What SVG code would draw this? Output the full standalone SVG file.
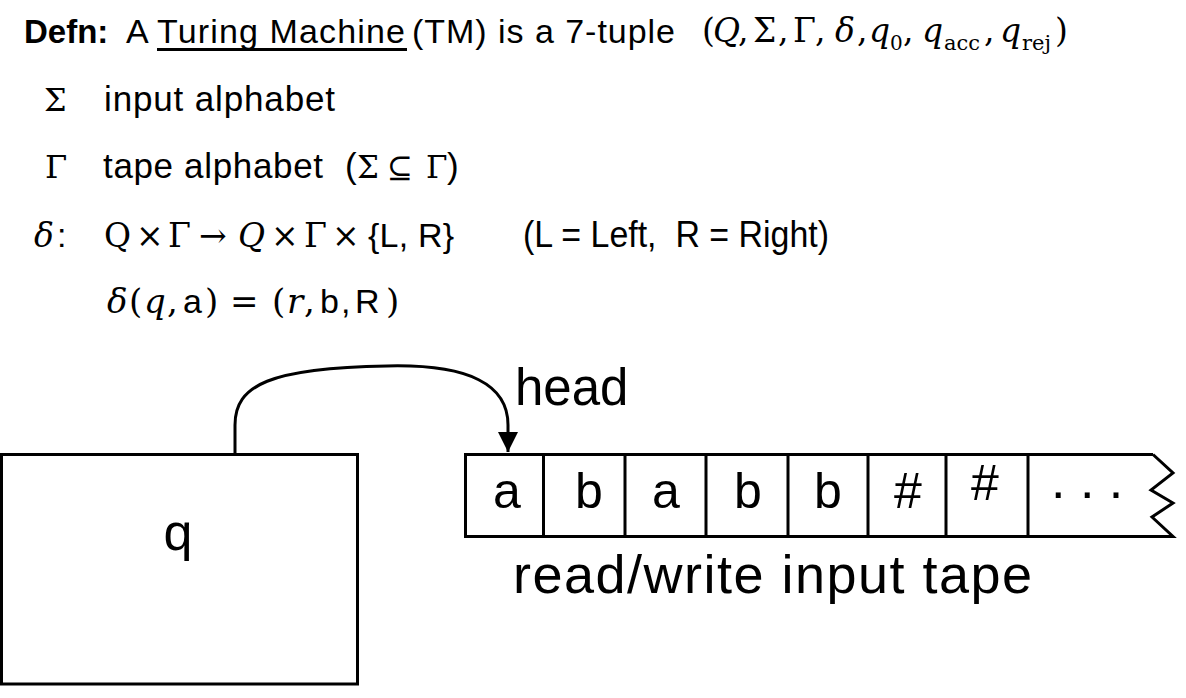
<svg xmlns="http://www.w3.org/2000/svg" width="1186" height="698" viewBox="0 0 1186 698">
<style>
.s{font-family:"Liberation Sans",Arial,sans-serif;fill:#000}
.m{font-family:"DejaVu Serif","Liberation Serif",serif;fill:#000}
.i{font-style:italic}
.b{font-weight:bold}
.box{fill:#fff;stroke:#000;stroke-width:3}
.ln{fill:none;stroke:#000;stroke-width:3}
.big{font-size:52px}
.cell{font-size:50px;text-anchor:middle}
</style>
<defs>
<marker id="ah" markerUnits="userSpaceOnUse" markerWidth="22" markerHeight="20" refX="20" refY="10" orient="auto">
<path d="M0,0 L20,10 L0,20 Z" fill="#000"/>
</marker>
</defs>
<rect width="1186" height="698" fill="#fff"/>

<g id="definition">
<text class="s b" x="24" y="43" font-size="33">Defn:</text>
<text class="s" x="126" y="43" font-size="34">A</text>
<text class="s" x="157" y="43" font-size="34" textLength="248">Turing Machine</text>
<rect x="157" y="48" width="250" height="3" fill="#000"/>
<text class="s" x="412" y="43" font-size="34" textLength="263">(TM) is a 7-tuple</text>
<g class="m" font-size="33">
<text x="702" y="42">(</text>
<text class="i" x="713" y="42">Q</text>
<text x="738" y="42">,</text>
<text x="753" y="42">Σ</text>
<text x="778" y="42">,</text>
<text x="793" y="42">Γ</text>
<text x="815" y="42">,</text>
<text class="i" x="835" y="42">δ</text>
<text x="857" y="42">,</text>
<text class="i" x="869" y="42">q</text>
<text x="890" y="50" font-size="20">0</text>
<text x="903" y="42">,</text>
<text class="i" x="922" y="42">q</text>
<text x="944" y="50" font-size="21">acc</text>
<text x="984" y="42">,</text>
<text class="i" x="1000" y="42">q</text>
<text x="1022" y="50" font-size="21">rej</text>
<text x="1055" y="42">)</text>
</g>
</g>

<g id="sigma-line">
<text class="m" x="44" y="111" font-size="32">Σ</text>
<text class="s" x="104" y="111" font-size="35" textLength="231">input alphabet</text>
</g>

<g id="gamma-line">
<text class="m" x="45" y="178" font-size="32">Γ</text>
<text class="s" x="103" y="178" font-size="35" textLength="220">tape alphabet</text>
<text class="s" x="345" y="178" font-size="35">(</text>
<text class="m" x="357" y="178" font-size="31">Σ</text>
<text class="m" x="387" y="178" font-size="31">⊆</text>
<text class="m" x="426" y="178" font-size="31">Γ</text>
<text class="s" x="447" y="178" font-size="35">)</text>
</g>

<g id="delta-line">
<g class="m" font-size="33">
<text class="i" x="34" y="247">δ</text>
<text x="104" y="247">Q</text>
<text x="136" y="247">×</text>
<text x="168" y="247">Γ</text>
<text x="199" y="247">→</text>
<text class="i" x="238" y="247">Q</text>
<text x="271" y="247">×</text>
<text x="304" y="247">Γ</text>
<text x="332" y="247">×</text>
</g>
<text class="s" x="57" y="247" font-size="34">:</text>
<text class="s" x="368" y="247" font-size="34" textLength="86">{L, R}</text>
<text class="s" x="523" y="247" font-size="36" textLength="306" lengthAdjust="spacingAndGlyphs" style="white-space:pre">(L = Left,  R = Right)</text>
</g>

<g id="example-line">
<g class="m" font-size="34">
<text class="i" x="107" y="313">δ</text>
<text x="129" y="313">(</text>
<text class="i" x="144" y="313">q</text>
<text x="167" y="313">,</text>
<text x="205" y="313">)</text>
<text x="230" y="313">=</text>
<text x="272" y="313">(</text>
<text class="i" x="287" y="313">r</text>
<text x="304" y="313">,</text>
<text x="386" y="313">)</text>
</g>
<g class="s" font-size="34">
<text x="183" y="313">a</text>
<text x="320" y="313">b</text>
<text x="341" y="313">,</text>
<text x="355" y="313">R</text>
</g>
</g>

<g id="connectors">
<path class="ln" d="M235,455 L235,425 C235,385 270,368 387,366 C470,364 508,385 508,425 L508,452" marker-end="url(#ah)"/>
</g>

<g id="state-control">
<rect class="box" x="1.5" y="454.5" width="356" height="229.5"/>
<text class="s big" x="178" y="550" text-anchor="middle">q</text>
</g>

<g id="tape">
<path class="ln" d="M1153,454.5 L465.5,454.5 L465.5,536.5 L1173,536.5 L1152,517 L1173,503 L1151,490 L1173,473 L1153,454.5"/>
<path class="ln" d="M543.5,454.5 V536.5 M625,454.5 V536.5 M706,454.5 V536.5 M788,454.5 V536.5 M868,454.5 V536.5 M946,454.5 V536.5 M1028,454.5 V536.5"/>
<g class="s cell">
<text x="507" y="508">a</text>
<text x="589" y="508">b</text>
<text x="666" y="508">a</text>
<text x="748" y="508">b</text>
<text x="828" y="508">b</text>
<text x="908" y="508">#</text>
<text x="985" y="500">#</text>
</g>
<text class="s" x="1051" y="498" font-size="52" style="white-space:pre">. . .</text>
</g>

<g id="labels">
<text class="s" x="515" y="405" font-size="51">head</text>
<text class="s" x="513" y="593" font-size="54" textLength="519">read/write input tape</text>
</g>
</svg>
